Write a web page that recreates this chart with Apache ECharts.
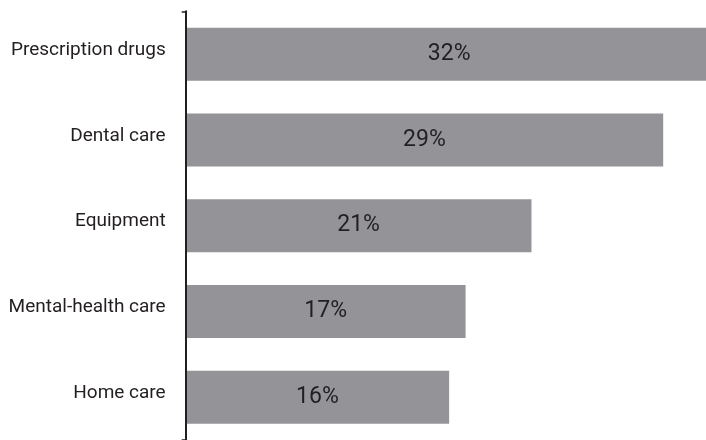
<!DOCTYPE html>
<html>
<head>
<meta charset="utf-8">
<script src="https://cdn.jsdelivr.net/npm/echarts@6/dist/echarts.min.js"></script>
<style>
  html, body { margin: 0; padding: 0; background: #ffffff; }
  #chart { width: 706px; height: 440px; }
</style>
</head>
<body>
<div id="chart"></div>
<script>
// Share of respondents citing each type of cost
const categories = ['Prescription drugs', 'Dental care', 'Equipment', 'Mental-health care', 'Home care'];
const shares = [32, 29, 21, 17, 16];

const chart = echarts.init(document.getElementById('chart'), null, { renderer: 'canvas' });

chart.setOption({
  animation: false,
  backgroundColor: '#ffffff',
  // the value scale runs past the right edge, so the longest bar is cut off there
  grid: { left: 185.7, top: 11.25, right: 0, height: 432.5, containLabel: false },
  xAxis: {
    type: 'value',
    min: 0,
    max: 31.6,
    show: false
  },
  yAxis: {
    type: 'category',
    data: categories,
    inverse: true,
    z: 3,
    axisLine: { show: true, lineStyle: { color: '#231f20', width: 2 } },
    axisTick: {
      show: true,
      length: 4,
      interval: function (index) { return index === 0; },
      lineStyle: { color: '#231f20', width: 1.5 }
    },
    axisLabel: {
      color: '#231f20',
      fontFamily: 'Roboto',
      fontSize: 19,
      margin: 20,
      // category names sit slightly above the middle of their bars
      verticalAlign: 'bottom',
      lineHeight: 8
    },
    splitLine: { show: false }
  },
  series: [{
    type: 'bar',
    data: shares,
    barWidth: 53,
    clip: false,
    itemStyle: { color: '#949498' },
    label: {
      show: true,
      position: 'inside',
      formatter: '{c}%',
      color: '#231f20',
      fontFamily: 'Roboto',
      fontSize: 23
    }
  }]
});
</script>
</body>
</html>
